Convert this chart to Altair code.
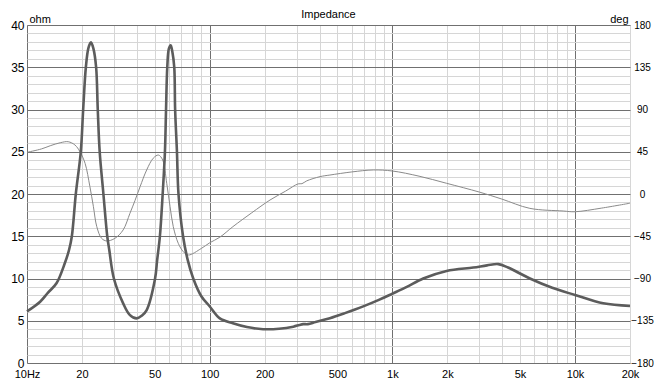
import altair as alt
import pandas as pd

# Impedance magnitude (ohm) vs frequency (Hz)
IMP_FREQ = [10, 11.8, 13.0, 14.5, 16.1, 17.0, 17.6, 18.5, 19.7, 20.3, 21.0, 21.7, 22.4, 23.1,
            23.9, 24.4, 25.0, 26.2, 27.5, 28.2, 29.9, 33.6, 36.5, 39.8, 42.5, 45.2, 50.2,
            51.6, 53.4, 55.3, 56.9, 57.7, 58.6, 59.8, 61.2, 62.5, 64.0, 64.7, 66.2, 67.5,
            71.5, 75.8, 81.3, 90, 100.4, 113.7, 134, 160, 196, 240, 287, 310, 325, 345,
            380, 455, 550, 693, 850, 1000, 1200, 1476, 1982, 2773, 3300, 3800, 4300, 5663,
            7500, 10000, 14270, 20000]
IMP_OHM = [6.1, 7.25, 8.3, 9.43, 11.8, 13.4, 15.0, 20.0, 25.0, 30.0, 35.0, 37.3, 37.95, 37.2,
           35.0, 30.0, 25.0, 20.0, 15.0, 13.4, 10.0, 7.06, 5.7, 5.28, 5.6, 6.27, 9.94,
           12.2, 15.0, 20.0, 25.0, 30.0, 35.0, 37.2, 37.6, 36.8, 35.0, 30.0, 25.0, 20.0,
           15.0, 12.2, 10.0, 7.9, 6.66, 5.28, 4.7, 4.25, 4.0, 4.05, 4.3, 4.5, 4.6, 4.6,
           4.85, 5.3, 5.9, 6.7, 7.5, 8.2, 9.0, 10.0, 10.9, 11.3, 11.55, 11.7, 11.3, 10.0,
           8.9, 8.05, 7.06, 6.75]

# Phase (deg) vs frequency (Hz)
PH_FREQ = [10, 12, 13.4, 15.2, 16.8, 18.3, 19.5, 20.8, 22.1, 23.1, 24.1, 25.6, 27.3, 30.3,
           33.6, 36.6, 39.0, 41.6, 45.2, 49.1, 52.4, 55.3, 58.2, 60.7, 63.2, 67.3, 71.8,
           76.4, 90, 100, 113.7, 134, 170, 214, 260, 305, 320, 340, 402, 455, 600, 787,
           1000, 1400, 1982, 3000, 3963, 5663, 8610, 10000, 14000, 20000]
PH_DEG = [44.4, 48.0, 51.4, 54.6, 55.7, 52.2, 45.0, 32.6, 7.8, -13.5, -34.8, -47.2, -50.0, -47.2,
          -38.3, -20.6, -7.0, 7.8, 25.6, 38.1, 41.5, 36.2, 11.4, -13.5, -34.8, -52.5, -61.5,
          -65.0, -58.0, -52.0, -46.0, -34.8, -20.0, -6.4, 3.0, 10.8, 11.0, 14.0, 18.5, 20.2, 23.5, 25.6,
          24.5, 19.0, 11.4, 2.0, -5.3, -15.3, -18.1, -18.9, -15.0, -9.8]

X_GRID = [10, 20, 30, 40, 50, 60, 70, 80, 90,
          100, 200, 300, 400, 500, 600, 700, 800, 900,
          1000, 2000, 3000, 4000, 5000, 6000, 7000, 8000, 9000,
          10000, 20000]
X_MAJOR = [10, 100, 1000, 10000]
X_LABELS = {10: "10Hz", 20: "20", 50: "50", 100: "100", 200: "200", 500: "500",
            1000: "1k", 2000: "2k", 5000: "5k", 10000: "10k", 20000: "20k"}
OHM_GRID = list(range(0, 41))
DEG_TICKS = [-180, -135, -90, -45, 0, 45, 90, 135, 180]

FONT = "Liberation Sans"
MAJOR = "#707070"
MINOR = "#d6d6d6"

imp_df = pd.DataFrame({"f": IMP_FREQ, "z": IMP_OHM})
ph_df = pd.DataFrame({"f": PH_FREQ, "p": PH_DEG})

label_expr = " : ".join(f"datum.value == {k} ? '{v}'" for k, v in X_LABELS.items()) + " : ''"
major_test = " || ".join(f"datum.value == {v}" for v in X_MAJOR)

xscale = alt.Scale(type="log", domain=[10, 20000], nice=False)

x_axis = alt.Axis(
    values=X_GRID, labelExpr=label_expr, grid=True, ticks=False, domain=False,
    gridColor={"condition": {"test": major_test, "value": MAJOR}, "value": MINOR},
    labelFont=FONT, labelFontSize=11, labelColor="#000000", labelPadding=5,
    labelFlush=False, labelOverlap=False, labelBound=False, title=None,
)

left_axis = alt.Axis(
    orient="left", values=OHM_GRID,
    labelExpr="datum.value % 5 == 0 ? datum.label : ''",
    grid=True, ticks=False, domain=False,
    gridColor={"condition": {"test": "datum.value % 5 == 0", "value": MAJOR}, "value": MINOR},
    labelFont=FONT, labelFontSize=12, labelColor="#000000", labelPadding=3,
    labelFlush=False, labelOverlap=False, labelBound=False,
    title="ohm", titleAngle=0, titleAlign="left", titleBaseline="alphabetic",
    titleX=2, titleY=-3, titleFont=FONT, titleFontSize=11, titleFontWeight="normal",
    titleColor="#000000",
)

right_axis = alt.Axis(
    orient="right", values=DEG_TICKS, grid=False, ticks=False, domain=False,
    labelFont=FONT, labelFontSize=10, labelColor="#000000", labelPadding=12,
    labelAlign="center", labelFlush=False, labelOverlap=False, labelBound=False,
    title="deg", titleAngle=0, titleAlign="right", titleBaseline="alphabetic",
    titleX=-2, titleY=-3, titleFont=FONT, titleFontSize=11, titleFontWeight="normal",
    titleColor="#000000",
)

phase = alt.Chart(ph_df).mark_line(
    color="#8a8a8a", strokeWidth=1, interpolate="catmull-rom"
).encode(
    x=alt.X("f:Q", scale=xscale, axis=x_axis),
    y=alt.Y("p:Q", scale=alt.Scale(domain=[-180, 180], nice=False), axis=right_axis),
)

imp = alt.Chart(imp_df).mark_line(
    color="#5c5c5c", strokeWidth=2.6, interpolate="catmull-rom"
).encode(
    x=alt.X("f:Q", scale=xscale, axis=x_axis),
    y=alt.Y("z:Q", scale=alt.Scale(domain=[0, 40], nice=False), axis=left_axis),
)

chart = alt.layer(phase, imp).resolve_scale(y="independent").properties(
    width=603, height=338,
    autosize=alt.AutoSizeParams(type="none"),
    padding={"left": 19, "top": 17, "right": 24, "bottom": 16},
    title=alt.TitleParams(
        "Impedance", anchor="middle", frame="group", font=FONT, fontSize=11,
        fontWeight="normal", color="#000000", offset=4, baseline="alphabetic", dy=20,
    ),
).configure_view(stroke=MAJOR, strokeWidth=1).configure(background="#ffffff")

chart.save("out.html", embed_options={"renderer": "svg", "actions": False})
